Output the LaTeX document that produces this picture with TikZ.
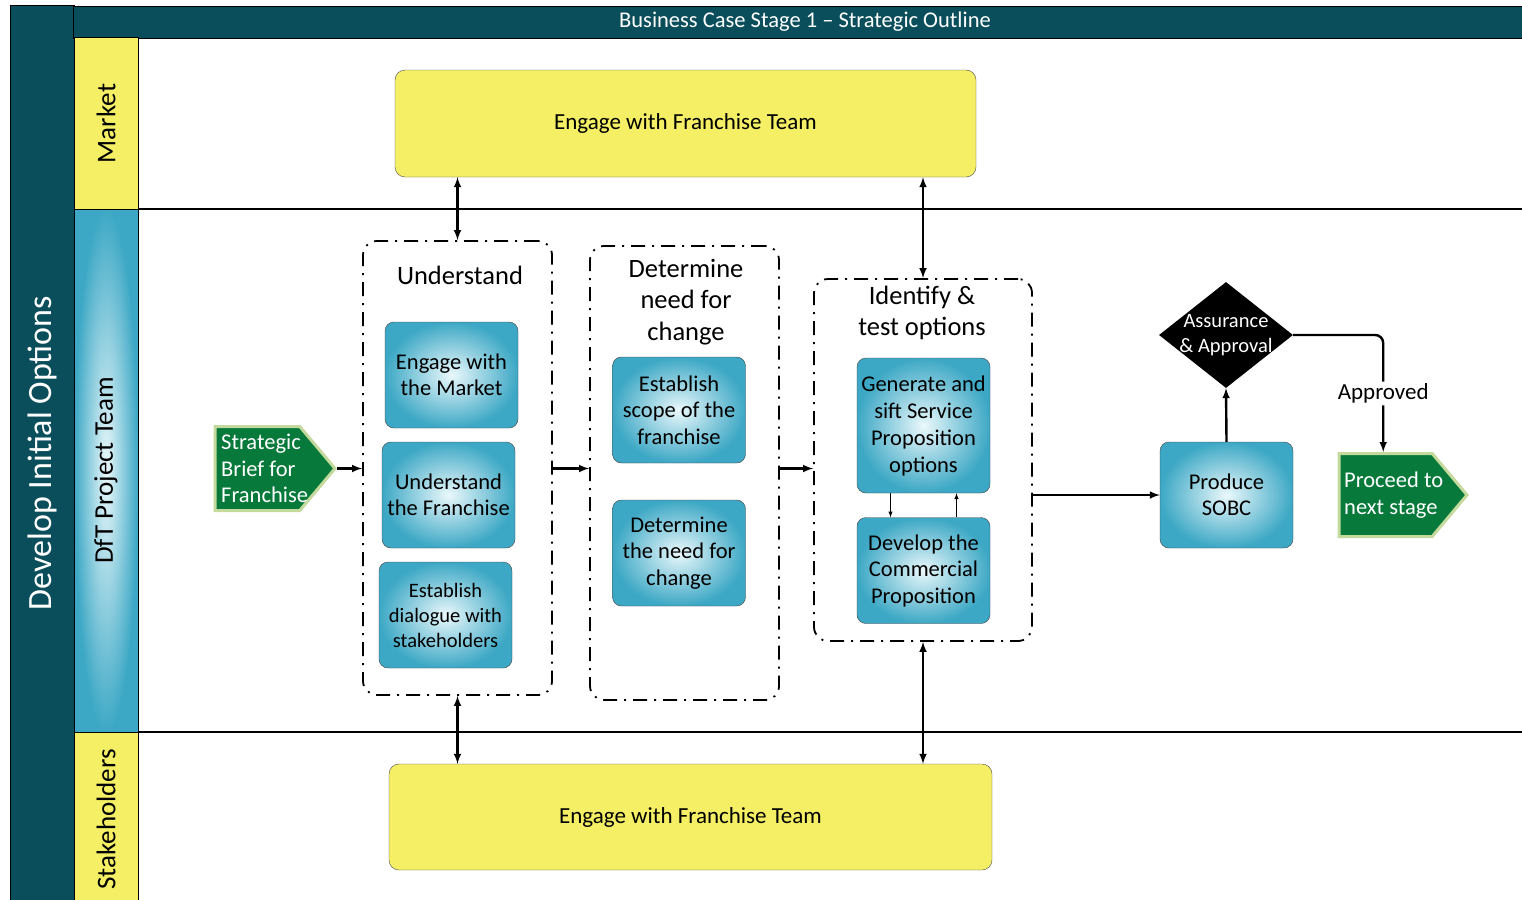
\documentclass[tikz,border=0pt]{standalone}
\usepackage{fontspec}
\setmainfont{Carlito}
\usetikzlibrary{positioning,shapes.geometric,shapes.symbols,arrows}

\definecolor{deepteal}{HTML}{0A4E5C}
\definecolor{laneyellow}{HTML}{F4EF65}
\definecolor{taskblue}{HTML}{3DA8C5}
\definecolor{taskpale}{HTML}{EAF8FB}
\definecolor{briefgreen}{HTML}{077A3B}
\definecolor{briefrim}{HTML}{C4DA9C}

\tikzset{
	lanehead/.style={draw=black,line width=1pt,fill=laneyellow,rotate=90,inner sep=0pt,minimum height=64,font=\fontsize{27}{31}\selectfont},
	task/.style={draw=black!75,rounded corners=9pt,shade,inner color=taskpale,outer color=taskblue,minimum width=133,minimum height=106,inner sep=1pt,align=center,font=\fontsize{22.5}{26.5}\selectfont},
	group/.style={draw,line width=1.8pt,dash pattern=on 14pt off 7pt on 2pt off 7pt,rounded corners=14pt},
	grouptitle/.style={align=center,font=\fontsize{26.5}{31.5}\selectfont},
	teambox/.style={draw=black!70,fill=laneyellow,rounded corners=10pt,font=\fontsize{23}{27}\selectfont},
	flag/.style={signal,signal to=east,signal pointer angle=100,fill=briefgreen,draw=briefrim,line width=3pt,inner sep=0pt},
	flagtext/.style={text=white,align=left,inner sep=0pt,font=\fontsize{22.5}{26.5}\selectfont},
	decision/.style={diamond,fill=black,minimum width=134,minimum height=106,inner sep=0pt},
	flow/.style={draw,line width=2.4pt,-latex},
	twoway/.style={draw,line width=2.4pt,latex-latex}
}

\begin{document}
\begin{tikzpicture}[x=1pt,y=-1pt]
	\useasboundingbox (0,0) rectangle (1522,899);
	% frame and lanes
	\fill[deepteal,draw=black,line width=1pt] (10,6) rectangle (74,905);
	\node[text=white,rotate=90,font=\fontsize{34}{38}\selectfont] (stage) at (42,453) {Develop Initial Options};
	\node[draw=black,line width=1pt,fill=deepteal,minimum width=1460,minimum height=32,inner sep=0pt,anchor=north west] (header) at (73,6) {};
	\node[text=white,font=\fontsize{22.5}{26}\selectfont] (headtext) at (805,22) {Business Case Stage 1 -- Strategic Outline};
	\node[lanehead,minimum width=171] (market) at (106,123.5) {Market};
	\node[lanehead,minimum width=523,fill=none,shade,inner color=taskpale,outer color=taskblue] (dft) at (106,470.5) {DfT Project Team};
	\node[lanehead,minimum width=175] (stake) at (106,819.5) {Stakeholders};
	\draw[line width=1.2pt] (138,209) -- (1522,209);
	\draw[line width=1.2pt] (138,732) -- (1522,732);
	% market and stakeholder boxes
	\node[teambox,minimum width=581,minimum height=107] (topteam) at (685.5,123.5) {Engage with Franchise Team};
	\node[teambox,minimum width=603,minimum height=106] (botteam) at (690.5,817) {Engage with Franchise Team};
	% stage groups
	\node[group,minimum width=189,minimum height=454] (und) at (457.5,468) {};
	\node[grouptitle] (undtitle) at (460,275) {Understand};
	\node[group,minimum width=189,minimum height=454] (det) at (684.5,473) {};
	\node[grouptitle] (dettitle) at (686,302) {Determine\\need for\\change};
	\node[group,minimum width=218,minimum height=362] (ident) at (923,460) {};
	\node[grouptitle] (identtitle) at (922,313) {Identify \&\\test options};
	% tasks
	\node[task] (market-task) at (451.5,375) {Engage with\\the Market};
	\node[task] (franchise-task) at (448.5,495) {Understand\\the Franchise};
	\node[task,font=\fontsize{20.5}{25}\selectfont] (dialogue-task) at (445.5,615) {Establish\\dialogue with\\stakeholders};
	\node[task] (scope-task) at (679,410) {Establish\\scope of the\\franchise};
	\node[task] (need-task) at (679,553) {Determine\\the need for\\change};
	\node[task,minimum height=135,font=\fontsize{22.5}{27}\selectfont] (gen) at (923.5,425.5) {Generate and\\sift Service\\Proposition\\options};
	\node[task] (dev) at (923.5,570.5) {Develop the\\Commercial\\Proposition};
	\node[task] (sobc) at (1226.5,495) {Produce\\SOBC};
	% start, decision, end
	\node[flag,minimum width=120,minimum height=84,anchor=west] (brief) at (213.5,468.5) {};
	\node[flagtext,anchor=west] (brieftext) at (221,468.5) {Strategic\\Brief for\\Franchise};
	\node[decision] (assure) at (1226,335) {};
	\node[text=white,align=center,font=\fontsize{20.5}{25}\selectfont] (assuretext) at (1226,335) {Assurance\\\& Approval};
	\node[flag,minimum width=128,minimum height=83,anchor=west] (proceed) at (1337.5,495) {};
	\node[flagtext,anchor=west] (proceedtext) at (1344,495) {Proceed to\\next stage};
	% connectors
	\draw[flow] (brief.east) -- (brief.east -| und.west);
	\draw[flow] (und.east |- brief.east) -- (det.west |- brief.east);
	\draw[flow] (det.east |- brief.east) -- (ident.west |- brief.east);
	\draw[flow] (ident.east |- sobc.west) -- (sobc.west);
	\draw[flow] (sobc.north) -- (assure.south);
	\draw[flow,rounded corners=8pt] (assure.east) -| node[pos=0.75,fill=white,inner sep=2pt,font=\fontsize{23}{26}\selectfont] (approved) {Approved} ([xshift=90pt]assure.east |- proceed.north);
	\draw[twoway] (und.north) -- (und.north |- topteam.south);
	\draw[twoway] (ident.north) -- (ident.north |- topteam.south);
	\draw[twoway] (und.south) -- (und.south |- botteam.north);
	\draw[twoway] (ident.south) -- (ident.south |- botteam.north);
	\draw[line width=1pt,-latex] ([xshift=-33pt]gen.south) -- ([xshift=-33pt]dev.north);
	\draw[line width=1pt,-latex] ([xshift=33pt]dev.north) -- ([xshift=33pt]gen.south);
\end{tikzpicture}
\end{document}
